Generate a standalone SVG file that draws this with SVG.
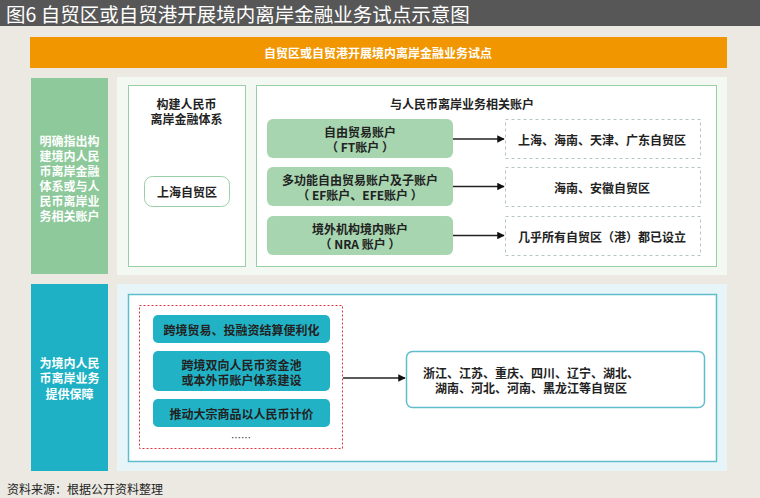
<svg xmlns="http://www.w3.org/2000/svg" width="760" height="498" viewBox="0 0 760 498">
<style>
text{font-family:"Noto Sans CJK SC","Liberation Sans",sans-serif;}
.t{font-size:12px;fill:#222;font-weight:bold;text-anchor:middle;dominant-baseline:central;}
.w{font-size:12px;fill:#fff;font-weight:bold;text-anchor:middle;dominant-baseline:central;}
.acc{fill:#A6D5AF;}
.dash{fill:#fff;stroke:#B5C7B8;stroke-dasharray:3 3;stroke-width:1;}
.tb{fill:#22B2C6;}
.cn{stroke:#222;stroke-width:1.5;fill:none;}
</style>
<defs>
<marker id="ah" viewBox="0 0 10 10" refX="9" refY="5" markerWidth="5" markerHeight="5" orient="auto"><path d="M0,0L10,5L0,10z" fill="#111"/></marker>
</defs>
<rect width="760" height="498" fill="#ECE9E3"/>
<g id="title">
<rect width="760" height="26" fill="#575757"/>
<text x="6" y="13.5" font-size="19.5" fill="#fff" dominant-baseline="central">图6  自贸区或自贸港开展境内离岸金融业务试点示意图</text>
</g>
<g id="header">
<rect x="30" y="37" width="697" height="31" fill="#F29600"/>
<text x="378" y="52.5" font-size="12" fill="#fff" font-weight="bold" text-anchor="middle" dominant-baseline="central">自贸区或自贸港开展境内离岸金融业务试点</text>
</g>
<g id="side1">
<rect x="31" y="78" width="77" height="196" fill="#8DC99A"/>
<text class="w" x="69.5" y="140">明确指出构</text>
<text class="w" x="69.5" y="155">建境内人民</text>
<text class="w" x="69.5" y="170">币离岸金融</text>
<text class="w" x="69.5" y="185">体系或与人</text>
<text class="w" x="69.5" y="200">民币离岸业</text>
<text class="w" x="69.5" y="215">务相关账户</text>
</g>
<rect x="117" y="77" width="610" height="198" fill="#F4F8F3"/>
<g id="box1">
<rect x="128.5" y="85.5" width="117" height="181" fill="#fff" stroke="#9ACFA5"/>
<text class="t" x="186.5" y="103">构建人民币</text>
<text class="t" x="186.5" y="118">离岸金融体系</text>
</g>
<g id="shanghai">
<rect x="144.5" y="176.5" width="85" height="30" rx="8" fill="#fff" stroke="#9ACFA5"/>
<text class="t" x="187" y="191.5">上海自贸区</text>
</g>
<g id="box2">
<rect x="256.5" y="85.5" width="460" height="181" fill="#fff" stroke="#9ACFA5"/>
<text class="t" x="462" y="103">与人民币离岸业务相关账户</text>
</g>
<g id="ft">
<rect class="acc" x="267" y="119" width="186" height="39" rx="6"/>
<text class="t" x="360" y="131">自由贸易账户</text>
<text class="t" x="360" y="146">（ FT账户 ）</text>
</g>
<g id="ef">
<rect class="acc" x="267" y="167" width="186" height="39" rx="6"/>
<text class="t" x="360" y="179">多功能自由贸易账户及子账户</text>
<text class="t" x="360" y="194">（ EF账户、EFE账户 ）</text>
</g>
<g id="nra">
<rect class="acc" x="267" y="216" width="186" height="39" rx="6"/>
<text class="t" x="360" y="228">境外机构境内账户</text>
<text class="t" x="360" y="243">（ NRA 账户 ）</text>
</g>
<g id="r1">
<rect class="dash" x="505.5" y="119.5" width="195" height="39"/>
<text class="t" x="602" y="139">上海、海南、天津、广东自贸区</text>
</g>
<g id="r2">
<rect class="dash" x="505.5" y="167.5" width="195" height="39"/>
<text class="t" x="602" y="187">海南、安徽自贸区</text>
</g>
<g id="r3">
<rect class="dash" x="505.5" y="216.5" width="195" height="39"/>
<text class="t" x="602" y="236">几乎所有自贸区（港）都已设立</text>
</g>
<g id="side2">
<rect x="31" y="284" width="77" height="187" fill="#1EB1C5"/>
<text class="w" x="69.5" y="362">为境内人民</text>
<text class="w" x="69.5" y="377">币离岸业务</text>
<text class="w" x="69.5" y="393">提供保障</text>
</g>
<rect x="117" y="284" width="610" height="187" fill="#E7F5F8"/>
<g id="box3">
<rect x="128.5" y="294.5" width="588" height="167" fill="#fff" stroke="#5FBECC" stroke-width="1.5"/>
</g>
<g id="group">
<rect x="139.5" y="305.5" width="203" height="143" fill="none" stroke="#D7333E" stroke-dasharray="2 2"/>
<text x="241" y="437" font-size="10" fill="#333" text-anchor="middle" dominant-baseline="central">……</text>
</g>
<g id="m1">
<rect class="tb" x="153" y="315" width="177" height="28" rx="5"/>
<text class="t" x="241.5" y="329">跨境贸易、投融资结算便利化</text>
</g>
<g id="m2">
<rect class="tb" x="153" y="351" width="177" height="40" rx="5"/>
<text class="t" x="241.5" y="364">跨境双向人民币资金池</text>
<text class="t" x="241.5" y="379">或本外币账户体系建设</text>
</g>
<g id="m3">
<rect class="tb" x="153" y="399" width="177" height="28" rx="5"/>
<text class="t" x="241.5" y="413">推动大宗商品以人民币计价</text>
</g>
<g id="prov">
<rect x="406.5" y="351.5" width="298" height="56" rx="6" fill="#fff" stroke="#5FBECC" stroke-width="1.5"/>
<text class="t" x="423" y="372" style="text-anchor:start">浙江、江苏、重庆、四川、辽宁、湖北、</text>
<text class="t" x="435" y="387" style="text-anchor:start">湖南、河北、河南、黑龙江等自贸区</text>
</g>
<g id="connectors">
<line class="cn" x1="453" y1="139" x2="504" y2="139" marker-end="url(#ah)"/>
<line class="cn" x1="453" y1="186.5" x2="504" y2="186.5" marker-end="url(#ah)"/>
<line class="cn" x1="453" y1="235.5" x2="504" y2="235.5" marker-end="url(#ah)"/>
<line class="cn" x1="343" y1="378" x2="405" y2="378" marker-end="url(#ah)"/>
</g>
<text x="7" y="488" font-size="12" fill="#222" dominant-baseline="central">资料来源：根据公开资料整理</text>
</svg>
